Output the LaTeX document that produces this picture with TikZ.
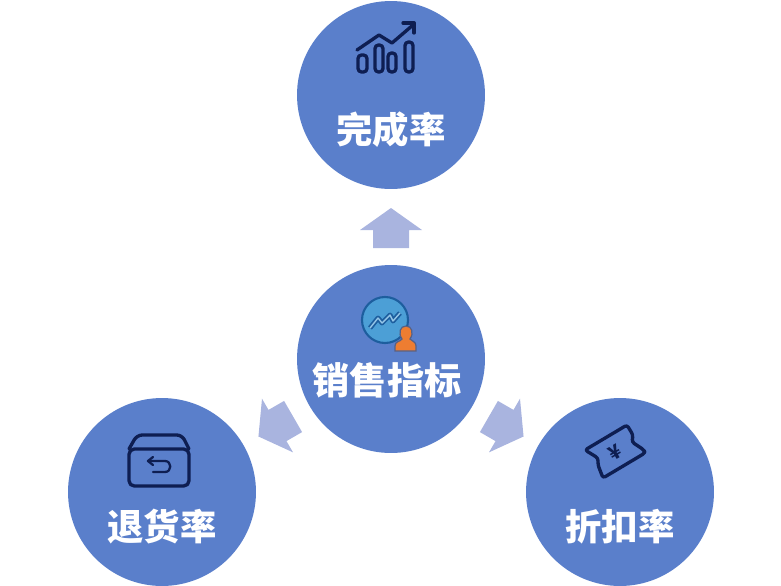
\documentclass[tikz,border=0pt]{standalone}
\usepackage{fontspec}
\usepackage{xcolor}
\newfontfamily\cjk{Noto Sans CJK SC}
\definecolor{metricblue}{HTML}{5A7FCB}
\definecolor{arrowblue}{HTML}{A9B4DF}
\definecolor{icondark}{HTML}{0E1E52}
\definecolor{globeblue}{HTML}{4C9FD6}
\definecolor{globeline}{HTML}{1D5E9E}
\definecolor{personorange}{HTML}{EE7D31}
\tikzset{
  metric/.style={circle,fill=metricblue,minimum size=3.76cm,inner sep=0pt},
  metriclabel/.style={text=white,inner sep=0pt,font=\cjk\bfseries\fontsize{20.7}{24}\selectfont},
  iconline/.style={draw=icondark,line width=1.9pt,line join=round,line cap=round},
  homearrow/.pic={\fill[arrowblue] (0,-22)--(31,0)--(18,0)--(18,18)--(-18,18)--(-18,0)--(-31,0)--cycle;}
}
\begin{document}
\begin{tikzpicture}[x=0.02cm,y=-0.02cm]
\useasboundingbox (0,0) rectangle (781,585);
\node[metric] (wancheng) at (391,95) {};
\node[metric] (xiaoshou) at (391,359) {};
\node[metric] (tuihuo) at (162,492) {};
\node[metric] (zhekou) at (620,492) {};
\node[metriclabel] (wanchenglabel) at (391,130) {完成率};
\node[metriclabel,font=\cjk\bfseries\fontsize{21.2}{24}\selectfont] (xiaoshoulabel) at (387,380) {销售指标};
\node[metriclabel] (tuihuolabel) at (162,527) {退货率};
\node[metriclabel] (zhekoulabel) at (620,527) {折扣率};
\pic at (391,230) {homearrow};
\pic[rotate=120] at (277.5,425.5) {homearrow};
\pic[rotate=-120] at (504.5,425.5) {homearrow};
% chart icon
\draw[iconline] (357,50)--(379,35)--(392,43)--(413,25);
\draw[iconline] (403,23)--(414,23)--(414,33);
\foreach \bx/\bw/\by in {358/9/55,375/8/45,388/8/53,405/8/42}
  \draw[iconline,rounded corners=2pt] (\bx,\by) rectangle ({\bx+\bw},72);
% globe and person
\draw[fill=globeblue,draw=globeline,line width=1.2pt] (385,320) circle (23);
\draw[globeline,line width=2.8pt,line join=round] (370,328)--(378,318)--(382,323)--(390,315)--(393,321)--(400,313);
\draw[globeblue!60!white,line width=.8pt,line join=round] (370,328)--(378,318)--(382,323)--(390,315)--(393,321)--(400,313);
\draw[fill=personorange,draw=icondark!70,line width=.7pt] (395,351)--(395,346) .. controls (395,341) and (400,342) .. (402,339) .. controls (398,333) and (400,326) .. (406,326) .. controls (412,326) and (414,333) .. (410,339) .. controls (412,342) and (416,341) .. (416,346)--(416,351)--cycle;
% box icon
\draw[iconline,rounded corners=3pt] (129,449) rectangle (189,486);
\draw[iconline,rounded corners=3pt] (129,449)--(137,435)--(182,435)--(189,449);
\draw[iconline,line width=1.3pt] (148,461)--(165,461) .. controls (172,461) and (172,472) .. (165,472)--(153,472);
\draw[iconline,line width=1.3pt] (153,457)--(148,461)--(153,465);
% ticket icon
\draw[iconline,rounded corners=1.5pt] (585,450)--(627,425)--(633,435)--(632,442)--(644,450)--(645,453)--(603,478)--(598,465)--(598,458)--cycle;
\node[rotate=30,text=icondark,inner sep=0pt,font=\cjk\bfseries\fontsize{11}{12}\selectfont] (yen) at (615,452) {¥};
\end{tikzpicture}
\end{document}
